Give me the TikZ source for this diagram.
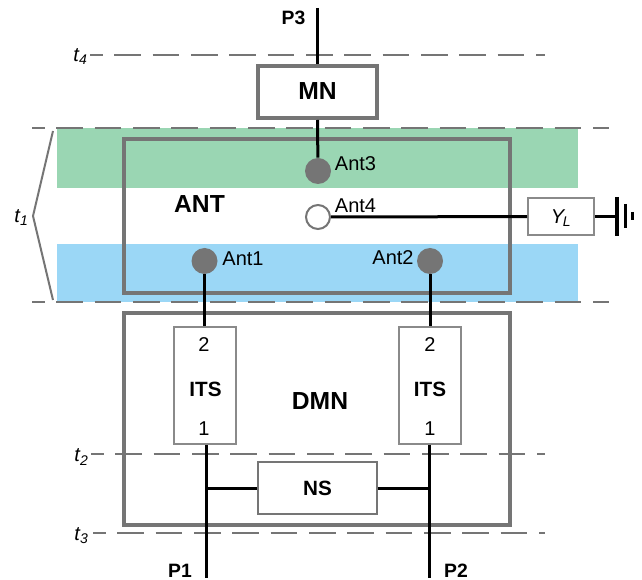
\documentclass[tikz,border=0pt]{standalone}
\usepackage{fontspec}
\setmainfont{Liberation Sans}
\definecolor{gr}{HTML}{757575}
\definecolor{bandg}{HTML}{9AD6B3}
\definecolor{bandb}{HTML}{9BD7F6}
\tikzset{
 x=0.75pt,y=-0.75pt,
 px/.style={line width=#1*0.75pt},
 smallbox/.style={draw=gr!85,px=2,fill=white,inner sep=0},
 wire/.style={draw=black,px=3},
 level/.style={draw=gr,px=2,dash pattern=on 20pt off 8.75pt,dash phase=10.5pt},
 dot/.style={circle,fill=gr,inner sep=0,minimum size=19.5pt},
 odot/.style={circle,draw=gr,px=2,fill=white,inner sep=0,minimum size=18pt},
 lab/.style={font=\fontsize{15pt}{16pt}\selectfont,inner sep=0},
 blab/.style={font=\fontsize{14.5pt}{16pt}\selectfont\bfseries,inner sep=0},
 big/.style={font=\fontsize{18.5pt}{20pt}\selectfont\bfseries,inner sep=0},
 mid/.style={font=\fontsize{15.5pt}{16pt}\selectfont\bfseries,inner sep=0},
 tlab/.style={font=\fontsize{15pt}{16pt}\selectfont\itshape,inner sep=0},
}
\begin{document}
\begin{tikzpicture}
\useasboundingbox (0,0) rectangle (642,580);
% bands
\fill[bandg] (57,128) rectangle (578,188);
\fill[bandb] (57,244) rectangle (578,302);
% dashed levels
\coordinate (t4a) at (90,55); \coordinate (t4b) at (545,55);
\coordinate (t1a) at (32,128); \coordinate (t1b) at (609,128);
\coordinate (t0a) at (32,302.5); \coordinate (t0b) at (609,302.5);
\coordinate (t2a) at (91,453.5); \coordinate (t2b) at (545,453.5);
\coordinate (t3a) at (93,533); \coordinate (t3b) at (545,533);
\draw[level] (t4a) -- (t4b);
\draw[level] (t1a) -- (t1b);
\draw[level] (t0a) -- (t0b);
\draw[level] (t2a) -- (t2b);
\draw[level] (t3a) -- (t3b);
% brace
\coordinate (b1) at (53,131); \coordinate (b2) at (33,216); \coordinate (b3) at (53,300);
\draw[gr,px=2] (b1) -- (b2) -- (b3);
% boxes
\node[draw=gr,px=4,inner sep=0,minimum width=289.5pt,minimum height=115.5pt] (ant) at (317,216) {};
\node[draw=gr,px=4,inner sep=0,minimum width=289.5pt,minimum height=159pt] (dmn) at (317,419) {};
\node[draw=gr,px=4,inner sep=0,minimum width=89pt,minimum height=39pt,big] (mn) at (317.5,92) {\raisebox{1pt}{MN}};
\node[smallbox,minimum width=46.5pt,minimum height=87.5pt] (its1) at (204.5,385.5) {};
\node[smallbox,minimum width=46.5pt,minimum height=87.5pt] (its2) at (430,385.5) {};
\node[smallbox,draw=gr,minimum width=89pt,minimum height=39pt,mid] (ns) at (317.5,488) {\raisebox{-1pt}{NS}};
\node[smallbox,minimum width=49.5pt,minimum height=27.5pt] (yl) at (561,216.5) {};
% antenna dots
\node[dot] (a3) at (318,171) {};
\node[odot] (a4) at (318,217) {};
\node[dot] (a1) at (204.5,261) {};
\node[dot] (a2) at (430,261) {};
% ports
\coordinate (p3) at (317.5,8);
\coordinate (p1) at (206.5,578);
\coordinate (p2) at (429,578);
\coordinate (g1) at (617,216.5);
\coordinate (g1a) at (617,197); \coordinate (g1b) at (617,236);
\coordinate (g2a) at (625,204); \coordinate (g2b) at (625,228);
\coordinate (g3a) at (632,212); \coordinate (g3b) at (632,220);
% wires
\draw[wire] (p3) -- (mn.north -| p3);
\draw[wire] (mn.south -| p3) -- (a3);
\draw[wire] (a1) -- (a1 |- its1.north);
\draw[wire] (a2) -- (a2 |- its2.north);
\draw[wire] (a4) -- (yl);
\draw[wire] (yl) -- (g1);
\draw[black,px=3.5] (g1a) -- (g1b);
\draw[black,px=3] (g2a) -- (g2b);
\draw[black,px=3] (g3a) -- (g3b);
\draw[wire] (p1 |- its1.south) -- (p1);
\draw[wire] (p2 |- its2.south) -- (p2);
\draw[wire] (p1 |- ns.west) -- (ns.west);
\draw[wire] (ns.east) -- (p2 |- ns.east);
% labels
\node[blab] (lp3) at (293.5,18) {P3};
\node[blab] (lp1) at (180,571) {P1};
\node[blab] (lp2) at (456,571) {P2};
\node[big] (lant) at (199.5,204) {ANT};
\node[big] (ldmn) at (320,401) {DMN};
\node[lab] (l3) at (355.5,164) {Ant3};
\node[lab] (l4) at (355.5,206) {Ant4};
\node[lab] (l1) at (243,259) {Ant1};
\node[lab] (l2) at (393,258) {Ant2};
\node[lab] (n2a) at (204,345) {2};
\node[lab] (n1a) at (204,429) {1};
\node[lab] (n2b) at (430,345) {2};
\node[lab] (n1b) at (430,429) {1};
\node[mid] (its1t) at (205.5,389) {ITS};
\node[mid] (its2t) at (430,389) {ITS};
\node[tlab] (ylt) at (561,218) {Y\textsubscript{\kern-1pt L}};
\node[tlab] (t4) at (80.5,57) {t\textsubscript{4}};
\node[tlab] (t1) at (21.5,218) {t\textsubscript{1}};
\node[tlab] (t2) at (81.5,457) {t\textsubscript{2}};
\node[tlab] (t3) at (81.5,536) {t\textsubscript{3}};
\end{tikzpicture}
\end{document}
